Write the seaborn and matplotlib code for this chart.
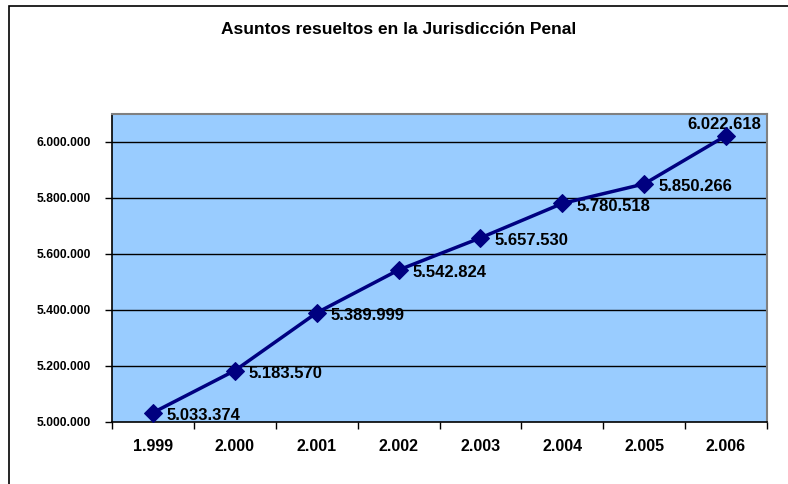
import matplotlib
matplotlib.use("Agg")
import matplotlib.pyplot as plt
import matplotlib.patches as mpatches
from matplotlib.ticker import FixedLocator, FuncFormatter
import seaborn as sns
import pandas as pd

years = ["1.999", "2.000", "2.001", "2.002", "2.003", "2.004", "2.005", "2.006"]
values = [5033374, 5183570, 5389999, 5542824, 5657530, 5780518, 5850266, 6022618]
labels = ["5.033.374", "5.183.570", "5.389.999", "5.542.824", "5.657.530",
          "5.780.518", "5.850.266", "6.022.618"]
yticks = [5000000, 5200000, 5400000, 5600000, 5800000, 6000000]

sns.set_theme(style="white")
plt.rcParams['font.family'] = ['Liberation Sans', 'DejaVu Sans']
plt.rcParams['text.color'] = 'black'
plt.rcParams['xtick.color'] = 'black'
plt.rcParams['ytick.color'] = 'black'
plt.rcParams['xtick.labelcolor'] = 'black'
plt.rcParams['ytick.labelcolor'] = 'black'

fig = plt.figure(figsize=(7.88, 4.84), dpi=100)
ax = fig.add_axes([112/788, 62/484, (767-112)/788, (422-114)/484])

df = pd.DataFrame({"year": years, "value": values})
sns.lineplot(data=df, x="year", y="value", ax=ax, color="#000080", linewidth=2.5,
             marker="D", markersize=9, markeredgecolor="#000080", sort=False, zorder=3)

ax.set_facecolor("#99CCFF")
ax.set_xlim(-0.5, len(years) - 0.5)
ax.set_ylim(5000000, 6100000)
ax.set_xlabel("")
ax.set_ylabel("")

ax.set_yticks(yticks)
ax.yaxis.set_major_formatter(FuncFormatter(lambda v, p: f"{int(v):,}".replace(",", ".")))
for y in yticks[1:]:
    ax.axhline(y, color="black", linewidth=1.0, zorder=0.5)

ax.set_xticks(range(len(years)))
ax.set_xticklabels(years)
ax.xaxis.set_minor_locator(FixedLocator([i - 0.5 for i in range(len(years) + 1)]))
ax.tick_params(axis="x", which="major", length=0, pad=12, labelsize=11.5, labelcolor="black")
ax.tick_params(axis="x", which="minor", length=5, width=1, color="black", direction="out", bottom=True)
ax.tick_params(axis="y", which="major", length=5, width=1, color="black", direction="out",
               left=True, pad=10, labelsize=8.7, labelcolor="black")
for t in ax.get_xticklabels():
    t.set_fontweight("bold")
for t in ax.get_yticklabels():
    t.set_fontweight("bold")

for s in ["left", "bottom"]:
    ax.spines[s].set_color("black")
    ax.spines[s].set_linewidth(1.2)
for s in ["top", "right"]:
    ax.spines[s].set_color("#808080")
    ax.spines[s].set_linewidth(1.5)

for i, (v, lab) in enumerate(zip(values, labels)):
    if i == len(values) - 1:
        ax.annotate(lab, (i, v), xytext=(-1, 3), textcoords="offset points",
                    ha="center", va="bottom", fontsize=12, fontweight="bold",
                    color="black", zorder=2)
    else:
        ax.annotate(lab, (i, v), xytext=(10, -2), textcoords="offset points",
                    ha="left", va="center", fontsize=12, fontweight="bold",
                    color="black", zorder=2)

fig.text(399/788, 1 - 30/484, "Asuntos resueltos en la Jurisdicción Penal",
         ha="center", va="center", fontsize=12.5, fontweight="bold", color="black")

border = mpatches.Rectangle((9/788, -0.05), 1.1, 1 - 6/484 + 0.05, transform=fig.transFigure,
                            fill=False, edgecolor="black", linewidth=1.2)
fig.patches.append(border)

fig.savefig("out.png", dpi=100)
